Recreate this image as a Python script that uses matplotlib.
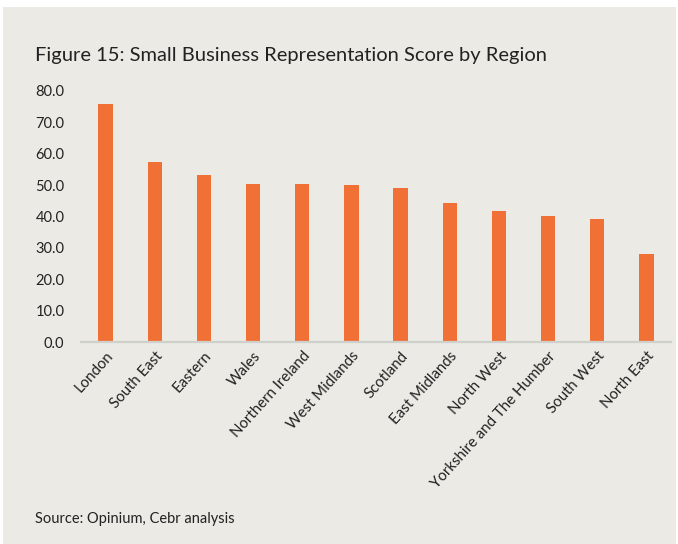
import matplotlib
matplotlib.use("Agg")
import matplotlib.pyplot as plt
from matplotlib.patches import Rectangle

regions = ["London", "South East", "Eastern", "Wales", "Northern Ireland",
           "West Midlands", "Scotland", "East Midlands", "North West",
           "Yorkshire and The Humber", "South West", "North East"]
scores = [75.8, 57.5, 53.2, 50.3, 50.3, 49.9, 49.0, 44.4, 41.8, 40.1, 39.3, 28.2]
y_ticks = [0, 10, 20, 30, 40, 50, 60, 70, 80]

bg = "#EBEAE5"
bar_color = "#F07036"
text_color = "#222222"

plt.rcParams["font.family"] = ["Lato", "DejaVu Sans"]

fig = plt.figure(figsize=(6.78, 5.44), dpi=100)
fig.patch.set_facecolor("white")
fig.patches.append(Rectangle((3 / 678, 0), 673 / 678, 1 - 7 / 544,
                             transform=fig.transFigure, facecolor=bg,
                             edgecolor="none", zorder=-10))

ax = fig.add_axes([81 / 678, 1 - 342 / 544, 590 / 678, 251 / 544])
ax.set_facecolor("none")

x = range(len(regions))
ax.bar(x, scores, width=0.29, color=bar_color, edgecolor="none", zorder=2)

ax.set_xlim(-0.5, len(regions) - 0.5)
ax.set_ylim(0, 80)
ax.set_yticks(y_ticks)
ax.set_yticklabels([f"{v:.1f}" for v in y_ticks], fontsize=10.5, color=text_color)
ax.set_xticks(list(x))
ax.set_xticklabels(regions, rotation=48, ha="right", rotation_mode="anchor",
                   fontsize=10.8, color=text_color)

for side in ["top", "right", "left"]:
    ax.spines[side].set_visible(False)
ax.spines["bottom"].set_color("#CFCFCB")
ax.spines["bottom"].set_linewidth(1.6)
ax.spines["bottom"].set_zorder(3)
ax.tick_params(axis="both", length=0)
ax.tick_params(axis="y", pad=12)
ax.tick_params(axis="x", pad=5)

fig.text(35 / 678, 1 - 55 / 544, "Figure 15: Small Business Representation Score by Region",
         fontsize=14.5, color=text_color, va="center", ha="left")
fig.text(35 / 678, 1 - 519 / 544, "Source: Opinium, Cebr analysis",
         fontsize=10.5, color=text_color, va="center", ha="left")

fig.savefig("out.png", dpi=100, facecolor=fig.get_facecolor())
